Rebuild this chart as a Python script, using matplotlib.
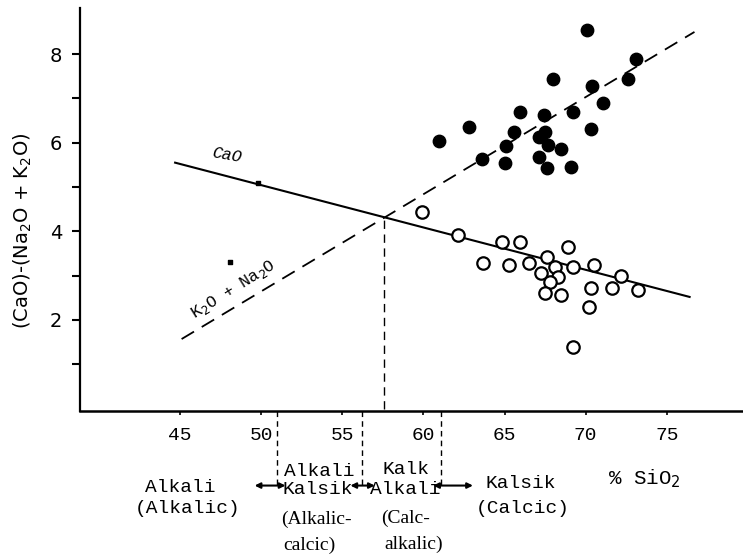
import matplotlib.pyplot as plt

# filled circles: K2O + Na2O samples
filled_x = [70.1, 73.1, 72.6, 68.0, 70.4, 71.05, 65.95, 69.2, 67.4, 62.8, 70.3, 60.95,
            65.6, 67.5, 67.1, 65.1, 67.7, 68.5, 63.6, 65.0, 67.1, 67.6, 69.1]
filled_y = [8.55, 7.88, 7.43, 7.43, 7.29, 6.89, 6.70, 6.69, 6.63, 6.36, 6.30, 6.03,
            6.24, 6.24, 6.12, 5.92, 5.95, 5.86, 5.64, 5.54, 5.67, 5.42, 5.46]

# open circles: CaO samples
open_x = [59.9, 62.1, 64.85, 65.95, 68.9, 63.7, 65.3, 66.5, 67.6, 68.1, 69.2, 70.5,
          67.25, 68.3, 72.2, 67.8, 70.3, 71.6, 73.25, 67.5, 68.5, 70.2, 69.2]
open_y = [4.44, 3.92, 3.77, 3.77, 3.64, 3.28, 3.23, 3.28, 3.43, 3.20, 3.20, 3.24,
          3.07, 2.98, 3.00, 2.86, 2.73, 2.73, 2.67, 2.60, 2.56, 2.30, 1.39]

# trend lines (end points)
cao_x = [44.7, 76.4]
cao_y = [5.55, 2.52]
alk_x = [45.1, 76.7]
alk_y = [1.57, 8.5]
x_cross = 57.6
y_cross = 4.32

# stray specks in the scan
speck_x = [49.8, 48.1]
speck_y = [5.09, 3.3]

# boundaries of the fields on the SiO2 axis
bounds = [51.0, 56.2, 61.1]

xticks = [45, 50, 55, 60, 65, 70, 75]
yticks = [2, 4, 6, 8]
yminor = [1, 3, 5, 7]

mono = 'Liberation Mono'
serif = 'Liberation Serif'

fig = plt.figure(figsize=(7.43, 5.6), dpi=100)
ax = fig.add_axes([80 / 743, 149 / 560, 663 / 743, 403 / 560])

ax.plot(cao_x, cao_y, color='black', lw=1.5)
ax.plot(alk_x, alk_y, color='black', lw=1.3, linestyle=(0, (8, 5)))
ax.plot([x_cross, x_cross], [0, y_cross], color='black', lw=1, linestyle=(0, (6, 4)))

ax.scatter(filled_x, filled_y, s=80, color='black', zorder=3)
ax.scatter(open_x, open_y, s=80, facecolors='white', edgecolors='black', linewidths=1.6, zorder=3)
ax.scatter(speck_x, speck_y, s=8, color='black', marker='s', zorder=3)

ax.text(47.9, 5.72, 'CaO', family=mono, fontsize=12, style='italic', rotation=-10,
        ha='center', va='center')
ax.text(48.3, 2.68, r'K$_2$O + Na$_2$O', family=mono, fontsize=12, rotation=32,
        ha='center', va='center', rotation_mode='anchor')

ax.set_xlim(38.84, 79.69)
ax.set_ylim(-0.054, 9.04)
ax.spines['top'].set_visible(False)
ax.spines['right'].set_visible(False)
ax.spines['left'].set_linewidth(1.6)
ax.spines['bottom'].set_linewidth(1.8)

ax.set_xticks(xticks)
ax.set_xticklabels([str(t) for t in xticks], family=mono, fontsize=14)
ax.tick_params(axis='x', length=3, width=1.2, pad=8.5)
ax.set_yticks(yticks)
ax.set_yticks(yminor, minor=True)
ax.set_yticklabels([str(t) for t in yticks], family='DejaVu Sans', fontsize=14)
ax.tick_params(axis='y', which='both', length=6, width=1.5, pad=7)

ax.set_ylabel('(CaO)-(Na$_2$O + K$_2$O)', fontsize=14)
ax.yaxis.set_label_coords(-0.07, 0.447)

# field boundaries and labels below the axis
tr = ax.get_xaxis_transform()
for b in bounds:
    ax.plot([b, b], [0, -0.19], color='black', lw=1, linestyle=(0, (4, 3)),
            transform=tr, clip_on=False)

arrows = [(49.6, 51.5), (55.5, 57.0), (60.6, 63.05)]
for a0, a1 in arrows:
    ax.annotate('', xy=(a1, -0.185), xytext=(a0, -0.185), xycoords=tr, textcoords=tr,
                arrowprops=dict(arrowstyle='<|-|>', color='black', lw=1.5,
                                mutation_scale=8, shrinkA=0, shrinkB=0))

labels = [
    (45.0, -0.189, 'Alkali', mono),
    (45.5, -0.243, '(Alkalic)', mono),
    (53.6, -0.149, 'Alkali', mono),
    (53.5, -0.196, 'Kalsik', mono),
    (53.4, -0.268, '(Alkalic-', serif),
    (53.0, -0.333, 'calcic)', serif),
    (58.9, -0.146, 'Kalk', mono),
    (58.9, -0.196, 'Alkali', mono),
    (58.9, -0.266, '(Calc-', serif),
    (59.4, -0.330, 'alkalic)', serif),
    (66.0, -0.180, 'Kalsik', mono),
    (66.1, -0.243, '(Calcic)', mono),
]
for lx, ly, txt, fam in labels:
    ax.text(lx, ly, txt, family=fam, fontsize=14, ha='center', va='center', transform=tr)

ax.text(73.6, -0.168, r'% SiO$_2$', family=mono, fontsize=15, ha='center', va='center',
        transform=tr)

fig.savefig('out.png', dpi=100)
